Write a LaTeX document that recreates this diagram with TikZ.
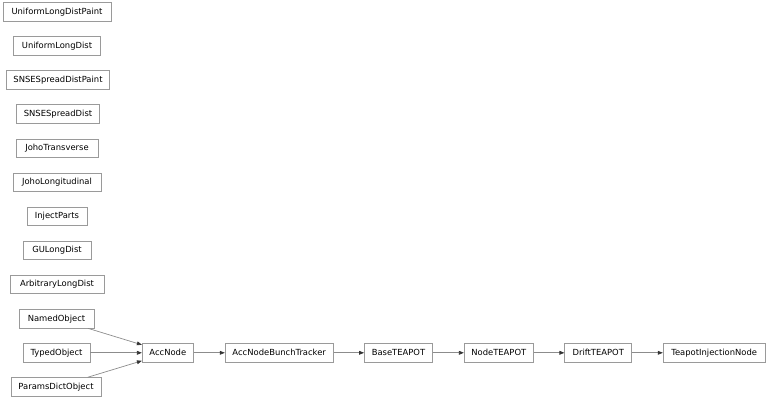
\documentclass[tikz,border=0pt]{standalone}
\usepackage{fontspec}
\setmainfont{DejaVu Sans}
\usetikzlibrary{arrows.meta}
\definecolor{boxline}{HTML}{9A9A9A}
\definecolor{edgeline}{HTML}{8C8C8C}
\definecolor{tipcol}{HTML}{333333}
\tikzset{
  cls/.style={draw=boxline, line width=0.8pt, rectangle, minimum height=18.5pt,
    inner xsep=2pt, inner ysep=0pt, font=\fontsize{8.4}{10}\selectfont, text=black},
  inh/.style={draw=edgeline, line width=0.7pt, -{Triangle[length=5pt,width=3.8pt,color=tipcol]}}
}
\begin{document}
\begin{tikzpicture}[x=1pt,y=-1pt]
\useasboundingbox (0,0) rectangle (768,401);
\def\cx{57}
\node[cls, minimum width=108pt] (uldp) at (\cx, 11.8) {UniformLongDistPaint};
\node[cls, minimum width=87pt]  (uld)  at (\cx, 45.9) {UniformLongDist};
\node[cls, minimum width=103pt] (ssdp) at (\cx+1, 80.0) {SNSESpreadDistPaint};
\node[cls, minimum width=83pt]  (ssd)  at (\cx+1, 114.1) {SNSESpreadDist};
\node[cls, minimum width=82pt]  (jt)   at (\cx, 148.2) {JohoTransverse};
\node[cls, minimum width=88pt]  (jl)   at (\cx, 182.3) {JohoLongitudinal};
\node[cls, minimum width=60pt]  (ip)   at (\cx, 216.4) {InjectParts};
\node[cls, minimum width=68pt]  (gu)   at (\cx, 250.5) {GULongDist};
\node[cls, minimum width=94pt]  (ald)  at (\cx, 284.6) {ArbitraryLongDist};
\node[cls, minimum width=75pt]  (no)   at (56.5, 318.7) {NamedObject};
\node[cls, minimum width=67pt]  (to)   at (56.5, 352.8) {TypedObject};
\node[cls, minimum width=90pt]  (pdo)  at (56, 386.9) {ParamsDictObject};
\node[cls, minimum width=51pt]  (acc)  at (167.8, 352.8) {AccNode};
\node[cls, minimum width=108pt] (anbt) at (279.2, 352.8) {AccNodeBunchTracker};
\node[cls, minimum width=68pt]  (bt)   at (398.5, 352.8) {BaseTEAPOT};
\node[cls, minimum width=69pt]  (nt)   at (498.8, 352.8) {NodeTEAPOT};
\node[cls, minimum width=67pt]  (dt)   at (598.3, 352.8) {DriftTEAPOT};
\node[cls, minimum width=102pt] (tin)  at (714.2, 352.8) {TeapotInjectionNode};
\draw[inh] (no) -- ([yshift=8pt]acc.west);
\draw[inh] (to) -- (acc);
\draw[inh] (pdo) -- ([yshift=-8pt]acc.west);
\draw[inh] (acc) -- (anbt);
\draw[inh] (anbt) -- (bt);
\draw[inh] (bt) -- (nt);
\draw[inh] (nt) -- (dt);
\draw[inh] (dt) -- (tin);
\end{tikzpicture}
\end{document}
